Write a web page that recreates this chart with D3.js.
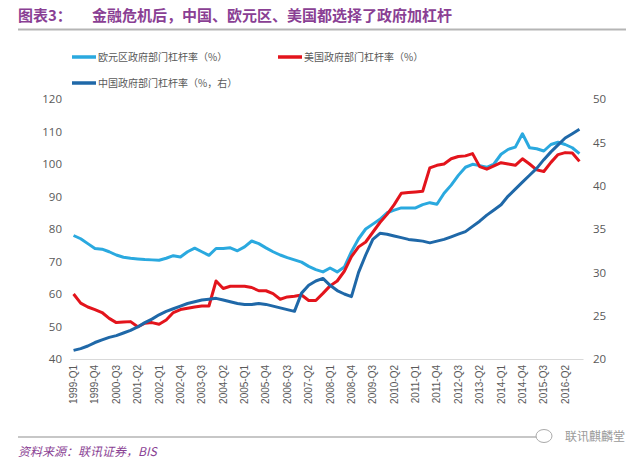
<!DOCTYPE html>
<html>
<head>
<meta charset="utf-8">
<script src="https://cdn.jsdelivr.net/npm/d3@7"></script>
<style>
  body { margin: 0; background: #fff; }
  svg { font-family: "Noto Sans CJK SC", "Noto Sans", sans-serif; }
</style>
</head>
<body>
<div id="chart"></div>
<script>
// quarters 1999-Q1 .. 2016-Q4
const years = d3.range(1999, 2017);
const quarters = years.flatMap(y => [1, 2, 3, 4].map(q => `${y}-Q${q}`));

// euro area government leverage (%), left axis
const euro = [78, 77, 75.5, 74, 73.8, 73, 72, 71.3, 71, 70.8, 70.6, 70.5, 70.4, 71, 71.8, 71.4,
  73, 74.1, 73, 71.9, 74, 74, 74.2, 73.3, 74.5, 76.3, 75.5, 74.2, 73, 72, 71.2, 70.5,
  69.8, 68.5, 67.5, 66.8, 68, 66.8, 68.3, 73, 77, 80, 81.5, 83, 85, 85.8, 86.5, 86.5,
  86.5, 87.5, 88.1, 87.6, 91, 93.5, 96.5, 99, 99.9, 99.5, 99, 100, 103, 104.5, 105.2, 109.3,
  105, 104.7, 104, 106, 106.7, 106, 105, 103.2];

// US government leverage (%), left axis
const us = [60, 57.2, 56, 55.2, 54.3, 52.5, 51.2, 51.4, 51.5, 49.9, 51, 51.2, 50.7, 52, 54.3, 55.2,
  55.6, 56, 56.3, 56.3, 64, 61.7, 62.4, 62.4, 62.4, 62, 61, 61, 60.1, 58.4, 59.1, 59.3,
  59.7, 58, 58, 60.2, 62.5, 64, 67, 71.5, 74.5, 76, 79, 82, 84.5, 87.5, 91, 91.2,
  91.4, 91.6, 98.8, 99.6, 100, 101.6, 102.3, 102.5, 103.2, 99.2, 98.4, 99.4, 100.4, 100, 99.6, 101.6,
  100, 98.2, 97.7, 100.5, 102.9, 103.5, 103.4, 100.8];

// China government leverage (%), right axis
const china = [21, 21.2, 21.5, 21.9, 22.2, 22.5, 22.7, 23, 23.3, 23.7, 24.2, 24.6, 25.1, 25.5, 25.8, 26.1,
  26.4, 26.6, 26.8, 26.9, 27, 26.8, 26.6, 26.4, 26.3, 26.3, 26.4, 26.3, 26.1, 25.9, 25.7, 25.5,
  27.6, 28.5, 29, 29.3, 28.5, 27.9, 27.5, 27.2, 30, 32, 33.8, 34.5, 34.4, 34.2, 34, 33.8,
  33.7, 33.6, 33.4, 33.6, 33.8, 34.1, 34.4, 34.7, 35.3, 35.9, 36.6, 37.2, 37.8, 38.8, 39.6, 40.4,
  41.2, 42, 43, 43.9, 44.7, 45.5, 46, 46.5];

const leftTicks = [40, 50, 60, 70, 80, 90, 100, 110, 120];
const rightTicks = [20, 25, 30, 35, 40, 45, 50];

const title1 = '图表3：';
const title2 = '金融危机后，中国、欧元区、美国都选择了政府加杠杆';
const source = '资料来源：联讯证券，BIS';
const legendItems = [
  { name: '欧元区政府部门杠杆率（%）', color: '#2aa9df' },
  { name: '美国政府部门杠杆率（%）', color: '#e3141c' },
  { name: '中国政府部门杠杆率（%，右）', color: '#1f68a8' }
];

const width = 640, height = 465;
const margin = { top: 99, bottom: 106, left: 70, right: 57 };
const purple = '#8a3f94';

const svg = d3.select('#chart').append('svg')
  .attr('width', width).attr('height', height);

// title
svg.append('text').attr('x', 18).attr('y', 21)
  .style('font-size', '15px').style('font-weight', 'bold').attr('fill', purple)
  .text(title1);
svg.append('text').attr('x', 92).attr('y', 21)
  .style('font-size', '15px').style('font-weight', 'bold').attr('fill', purple)
  .text(title2);
svg.append('line').attr('x1', 18).attr('x2', 626).attr('y1', 29.5).attr('y2', 29.5)
  .attr('stroke', '#b5b5b5').attr('stroke-width', 2);

// scales
const x = d3.scaleBand(quarters, [margin.left, width - margin.right]);
const cx = d => x(d) + x.bandwidth() / 2;
const yL = d3.scaleLinear([40, 120], [height - margin.bottom, margin.top]);
const yR = d3.scaleLinear([20, 50], [height - margin.bottom, margin.top]);

// axes
const axisL = svg.append('g').attr('transform', `translate(${margin.left - 8},0)`)
  .call(d3.axisLeft(yL).tickValues(leftTicks).tickSize(0).tickPadding(0));
const axisR = svg.append('g').attr('transform', `translate(${width - margin.right + 10},0)`)
  .call(d3.axisRight(yR).tickValues(rightTicks).tickSize(0).tickPadding(0));
[axisL, axisR].forEach(a => {
  a.select('.domain').remove();
  a.selectAll('text').attr('fill', '#595959').style('font-size', '11.5px')
    .style('font-family', '"Open Sans", sans-serif');
});

const axisX = svg.append('g').attr('transform', `translate(0,${height - margin.bottom})`)
  .call(d3.axisBottom(x).tickValues(quarters.filter((d, i) => i % 3 === 0)).tickSize(0));
axisX.select('.domain').attr('stroke', '#d9d9d9');
axisX.selectAll('text')
  .attr('fill', '#595959').style('font-size', '10px')
  .style('font-family', '"Liberation Sans", sans-serif')
  .attr('text-anchor', 'end')
  .attr('transform', 'rotate(-90)')
  .attr('x', -6).attr('y', 0).attr('dy', '0.35em');

// lines
const series = [
  { values: euro, y: yL, color: legendItems[0].color },
  { values: us, y: yL, color: legendItems[1].color },
  { values: china, y: yR, color: legendItems[2].color }
];
series.forEach(s => {
  const line = d3.line().x((d, i) => cx(quarters[i])).y(d => s.y(d));
  svg.append('path').datum(s.values)
    .attr('d', line).attr('fill', 'none')
    .attr('stroke', s.color).attr('stroke-width', 3)
    .attr('stroke-linejoin', 'round');
});

// legend
const legPos = [[72, 57], [278, 57], [72, 83]];
legendItems.forEach((it, i) => {
  const [lx, ly] = legPos[i];
  svg.append('line').attr('x1', lx).attr('x2', lx + 24).attr('y1', ly).attr('y2', ly)
    .attr('stroke', it.color).attr('stroke-width', 3.5);
  svg.append('text').attr('x', lx + 26).attr('y', ly).attr('dy', '0.35em')
    .style('font-size', '10px').attr('fill', '#595959').text(it.name);
});

// footer
svg.append('line').attr('x1', 18).attr('x2', 545).attr('y1', 437).attr('y2', 437)
  .attr('stroke', '#b5b5b5').attr('stroke-width', 1.5);
svg.append('text').attr('x', 18).attr('y', 456)
  .style('font-size', '12px').style('font-style', 'italic').attr('fill', purple)
  .text(source);
svg.append('text').attr('x', 625).attr('y', 441).attr('text-anchor', 'end')
  .style('font-size', '12px').attr('fill', '#9a9a9a').text('联讯麒麟堂');
svg.append('ellipse').attr('cx', 544).attr('cy', 436).attr('rx', 8).attr('ry', 6.5)
  .attr('fill', '#fff').attr('stroke', '#aaa').attr('stroke-width', 1);
</script>
</body>
</html>
